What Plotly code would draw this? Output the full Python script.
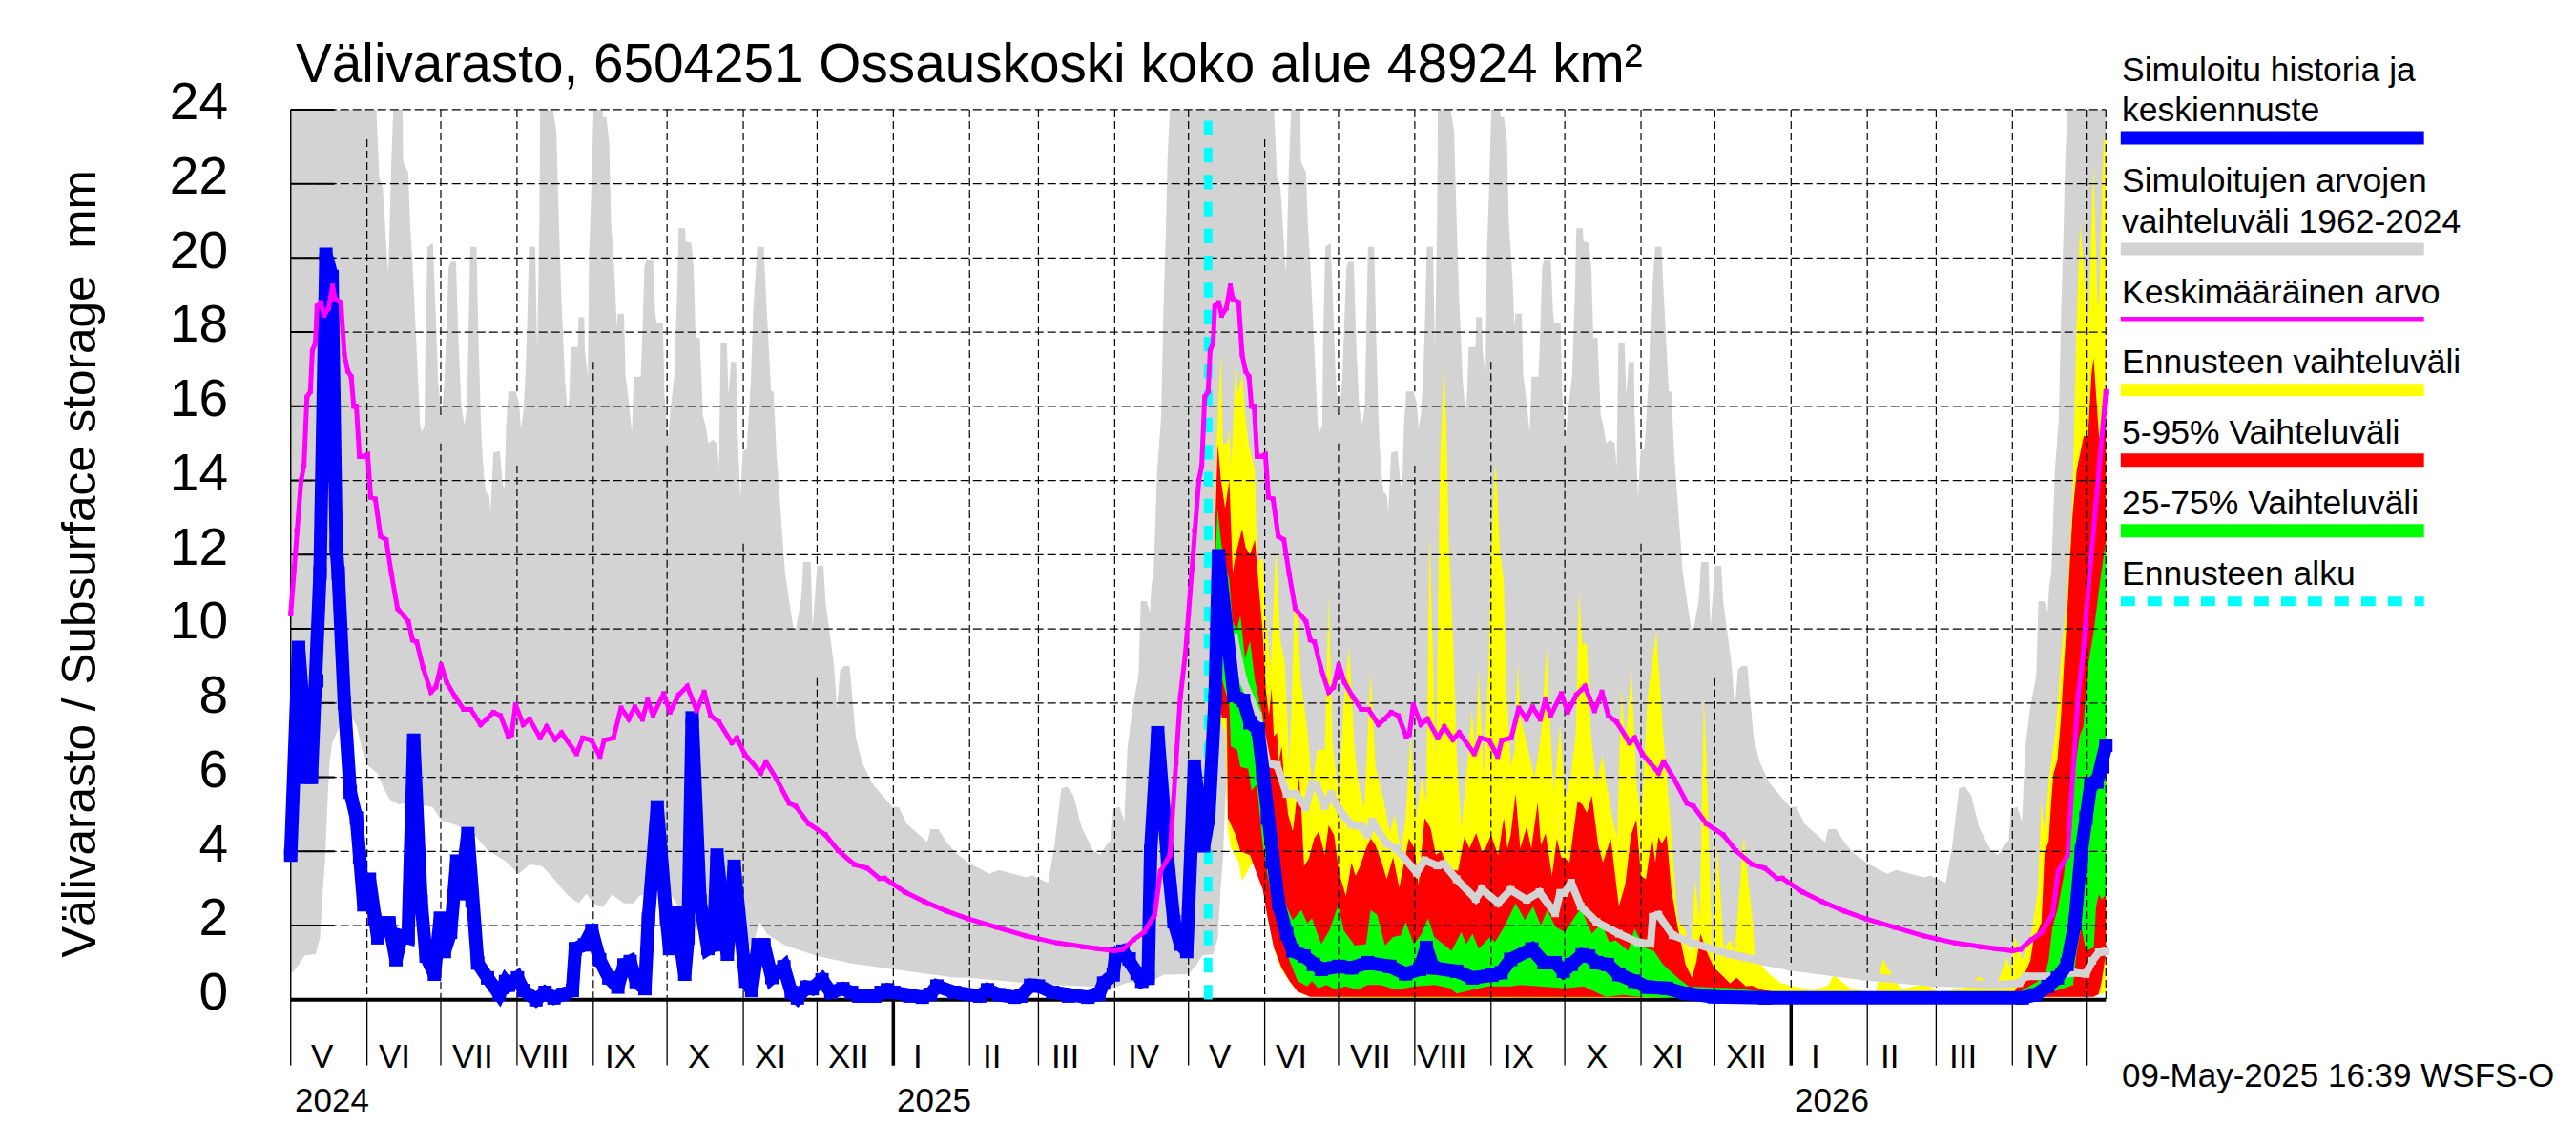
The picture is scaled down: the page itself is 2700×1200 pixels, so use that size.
"""
Välivarasto 6504251 Ossauskoski: simulated history, climatology and ensemble forecast.
Series are (day, value) pairs, day counted from 1 May 2024.
The climatology repeats every 365 days, so it is kept for one year only.
"""
import pandas as pd
import plotly.graph_objects as go

START = pd.Timestamp("2024-05-01")
FORECAST_DAY = 373
END_DAY = 738

# Climatology: upper and lower edge of the grey band, and the mean
clim_upper = [(0,24),(34.8,24),(36,22.15),(37.4,21.9),(39.1,20.1),(39.6,19.6),(40,20.35),(40.9,22.6),(41.7,24),(45.5,24),(45.7,22.6),(47.8,22.3),(48.6,20.8),(49.5,19.9),(51.2,17.5),(52.6,15.5),(53.3,15.3),(54.4,15.5),(54.7,17.5),(55.6,20.3),(57.8,20.4),(59,18.4),(59.9,16.7),(61.3,15.7),(62.5,16.7),(64.2,19.75),(65.1,19.9),(67.2,19.9),(68.2,17.7),(69.4,16),(70.6,15.5),(71.7,16),(72.4,18.4),(73,20.3),(75.5,20.3),(76.3,17.9),(77.2,15.8),(77.7,14.95),(78.6,14.1),(79.3,13.7),(80.7,13.6),(81.2,13.15),(82.4,14.75),(85,14.8),(86.2,13.9),(86.9,13.8),(87.6,15.5),(88.5,16.4),(91.4,16.4),(92.8,16.1),(93.6,15.4),(94.5,15.8),(95.4,16.8),(96.2,18.4),(96.9,20.3),(99.4,20.3),(100.2,17.5),(101.1,21),(101.4,24),(106.6,24),(108,23.4),(109.2,20.6),(110.1,18.8),(111.5,16.7),(112.5,15.9),(113.2,16.2),(113.9,17.6),(116.7,17.6),(117,18.4),(119.3,18.4),(119.6,17.5),(120.8,16.8),(121.3,20.1),(122.2,21.8),(123.1,24),(126.7,24),(127,23.8),(128.3,23.8),(129.5,23.1),(130.2,21),(131.7,19.5),(132.6,18.1),(132.9,18.5),(135.5,18.5),(136.1,16.85),(137.4,16.15),(138.7,15.3),(139.5,16.8),(142.3,16.8),(143,18),(143.8,19.75),(144.7,19.95),(147.3,19.95),(148.2,18.55),(148.7,18.25),(151.3,18.25),(152,16.25),(153.4,15.2),(154.2,15.8),(156,16.85),(157.2,19.25),(157.7,20.8),(160.3,20.8),(160.6,20.45),(162.9,20.4),(163.8,19.7),(164.6,17.85),(166.3,17.85),(167.6,15.75),(168.6,15.5),(169.8,15),(171.5,15.1),(173.3,15),(174.1,14.35),(174.8,17.7),(177.3,17.7),(178,16.3),(179,17.2),(181.1,17.2),(181.4,15.8),(182.8,13.5),(183.8,14.8),(185.4,14.85),(187.1,16.75),(188,18.55),(189.7,20.3),(192.3,20.3),(193.2,19.05),(195.3,16.4),(196.3,16.4),(197.5,14.7),(199.2,13.15),(201,11.5),(202.7,10.75),(204.4,10),(205.3,9.95),(207.5,10.8),(208.4,11.8),(211.4,11.8),(212.2,10),(214,11.7),(216.6,11.7),(217.4,10.75),(220.9,9),(222.1,7.85),(223.4,8.9),(224.9,9),(227.2,9),(229.8,7.05),(232.3,6.4),(236.2,5.85),(242,5.4),(244.6,5.2),(247.2,5.2),(250.4,4.75),(258.8,4.25),(260.1,4.6),(263.3,4.6),(266.6,4.25),(270.5,3.95),(275.6,3.7),(284,3.4),(287.9,3.5),(298.9,3.3),(301.5,3.35),(307.9,3.15),(310.5,4.15),(313.3,5.7),(315.7,5.75),(318.3,5.5),(321.5,4.65),(326,4.05),(329.2,3.9),(331.8,4.2),(333.5,4.3),(334.4,5.15),(337,5.2),(338.9,4.8),(340.2,6.8),(342.2,7.85),(344.7,8.75),(345.6,10.75),(348,10.75),(349.3,10.45),(350,11.2),(350.8,11.5),(351.3,12.4),(352.2,14.2),(353.9,15.7),(354.8,18.55),(355.7,20.5),(356.5,22.7),(357.4,24),(365,24)]
clim_lower = [(0,0.69),(3.2,0.94),(5.7,1.2),(10.1,1.23),(11.9,1.67),(12.3,2.1),(13.1,3),(14,3.8),(14.9,5.26),(15.8,6.4),(16.8,6.9),(19.3,7.3),(21.8,7.6),(25,7.6),(26.7,7.4),(29.2,6.7),(31.7,6.3),(35.4,6.1),(37.8,5.7),(40.3,5.4),(44,5.27),(46.5,5.3),(52.7,5.25),(57.6,5.2),(61.3,4.83),(67.5,4.7),(74.9,4.43),(79.9,4.04),(87.3,3.74),(92.7,3.4),(97.2,3.65),(102.1,3.6),(105.8,3.35),(112,2.86),(117,2.6),(120.2,2.86),(123.1,2.6),(126.9,2.5),(130.6,2.84),(135.5,2.6),(139.2,2.6),(141.7,2.8),(151.6,3),(154,2.9),(159,2.36),(161.5,2.07),(168.9,1.67),(178.8,1.48),(185,1.28),(188.7,1.67),(190.7,2.1),(193.6,1.77),(201,1.47),(214.1,1.18),(228.2,0.98),(245.3,0.82),(269.8,0.6),(276,0.59),(304,0.42),(334.8,0.33),(340,0.46),(350,0.5),(355,0.68),(365,0.69)]
clim_mean = [(0,10.4),(1.4,11.6),(2.4,12.65),(4.2,14),(5.4,14.4),(6.6,16.25),(8,16.4),(8.8,17.5),(10,17.7),(10.7,18.7),(12.3,18.8),(13.5,18.45),(15.4,18.65),(17,19.25),(18,18.9),(20.4,18.8),(21.8,17.4),(23.2,16.95),(24.6,16.8),(25.6,16),(26.7,16),(27.9,14.65),(29.6,14.65),(31.3,14.7),(32.5,13.55),(34.4,13.5),(36.5,12.5),(38.8,12.4),(40.9,11.5),(43.4,10.55),(47.8,10.2),(49.5,9.7),(51.2,9.65),(53.8,8.95),(57,8.3),(59,8.43),(61.1,9.03),(63.4,8.56),(66.8,8.17),(70.3,7.83),(73.2,7.83),(77.2,7.42),(79.8,7.57),(82.4,7.75),(85.3,7.66),(88.5,7.1),(89.8,7.15),(91.4,7.96),(94.5,7.42),(97.1,7.57),(101.4,7.06),(104,7.36),(107.5,7.02),(110.1,7.2),(116.2,6.63),(118.7,7.06),(122.2,7),(125.7,6.56),(127.4,7),(131.2,7.06),(134.3,7.87),(137.4,7.57),(139.9,7.9),(143,7.56),(145.1,8.09),(147.3,7.66),(151.6,8.26),(154.2,7.75),(157.7,8.22),(161.2,8.45),(165.1,7.79),(168.1,8.3),(170.7,7.66),(174.1,7.49),(179.3,6.93),(181.4,7.06),(184.5,6.63),(191.1,6.12),(193.2,6.42),(197.5,5.95),(202.7,5.3),(205.3,5.22),(210.5,4.75),(217.4,4.45),(222.6,4.02),(229.1,3.65),(234.3,3.55),(239.4,3.27),(241.4,3.28),(249.8,2.9),(257.5,2.65),(266.6,2.39),(275.6,2.18),(287.2,1.95),(298.9,1.72),(311.8,1.53),(322.1,1.42),(328,1.38),(334.9,1.32),(338.3,1.36),(342.7,1.62),(347,1.83),(351.3,2.3),(353.6,3.46),(357.4,3.89),(358.2,4.66),(360,6.38),(361.7,8.17),(363.8,9.37),(365,10.4)]

# Simulated history and median forecast
blue_line = [(0,3.9),(1.5,6),(3.2,9.5),(5.5,7.5),(7,6),(8.4,6),(10.6,8.6),(11.9,11.5),(14.3,20.1),(16.8,19.5),(18.5,12.2),(19.3,11.5),(21.8,8),(24.2,5.6),(26.7,4.9),(28,3.84),(29.7,2.56),(32,3.25),(34,2.17),(35.4,1.67),(37,2.07),(40,2.07),(42.8,1.08),(45,1.72),(47.7,1.67),(50,7),(53,2.66),(55,1.18),(58.4,0.69),(60.8,2.2),(62.5,1.3),(65,1.82),(67.5,3.74),(69,2.86),(72,4.48),(73.7,2.66),(76,0.99),(80,0.59),(84.8,0.15),(87.3,0.49),(88.5,0.39),(92.2,0.59),(94.7,0.25),(99.7,0),(103.4,0.2),(107,0.05),(110.8,0.15),(114.5,0.25),(115.7,1.38),(119.4,1.48),(122.4,1.87),(125.6,1.08),(129.3,0.59),(133,0.34),(135.5,0.94),(138,1.03),(140.4,0.49),(144,0.3),(145.4,2.17),(149,5.2),(152.8,2.17),(154,1.38),(156.5,2.36),(160.2,0.69),(161.5,1.67),(163.2,7.6),(166.4,2.66),(169.6,1.38),(171.9,1.48),(173.3,3.9),(177.5,1.23),(180.3,3.6),(185,0.5),(187.4,0.25),(190,1.48),(192.4,1.48),(195.6,0.6),(200.5,0.89),(203.5,0.2),(206,0.05),(209.7,0.34),(212,0.3),(216,0.54),(219.6,0.2),(224.5,0.3),(228,0.2),(231,0.1),(237.5,0.1),(240,0.2),(242.6,0.27),(245.2,0.2),(251.7,0.1),(256.8,0.07),(260.1,0.15),(262.7,0.37),(269.8,0.2),(280.1,0.1),(283.3,0.27),(287.9,0.14),(294.3,0.07),(296.9,0.1),(300.8,0.39),(304,0.37),(309.8,0.2),(316.3,0.1),(324.1,0.07),(328.6,0.15),(330.5,0.45),(334.4,0.67),(335.4,1.23),(338.3,1.31),(340.9,1.1),(344.1,0.71),(346,0.5),(348.6,0.58),(349.6,4),(352.5,7.2),(356.5,3.8),(359.1,2.1),(361.7,1.5),(364.3,1.3),(367.4,6.3),(371.2,4.15),(373.2,4.9),(375.8,8.1),(377.2,11.97),(380.3,9.95),(383.5,8.2),(387.4,8.07),(390,7.47),(393.2,7.3),(395.2,6.1),(397.1,4.9),(399,3.7),(401.6,2.6),(404.9,1.78),(407.4,1.32),(412,1.18),(415.8,0.95),(419,0.82),(426.2,0.9),(431.3,0.86),(437.8,1),(446.9,0.9),(453.3,0.7),(459,0.82),(461.7,1.41),(464.5,0.86),(474,0.77),(480.5,0.59),(488.3,0.66),(492.1,0.73),(496,1.09),(504.6,1.37),(509.6,1),(514.1,1),(517.4,0.77),(520.6,0.95),(525.1,1.21),(527.7,1.18),(530.9,1),(535.4,0.95),(540,0.68),(546.4,0.5),(551.6,0.34),(559.4,0.31),(567.1,0.17),(578.7,0.08),(599.4,0.05),(704,0.05),(709.2,0.13),(714.4,0.36),(718.3,0.59),(722.2,0.95),(725.4,2.06),(728,3.99),(729.9,4.9),(731.9,5.82),(734.4,5.87),(736.4,6.28),(738,6.86)]

# Light grey reference line inside the forecast period
grey_line = [(383.5,9.77),(387.4,8.58),(393.2,7.66),(397.1,6.37),(401,6.33),(404.9,5.55),(408.7,5.55),(412.6,5.18),(415.2,5.82),(417.1,5.78),(420.4,5.22),(422.9,5.55),(427.5,5),(431.3,4.72),(435.2,4.67),(437.8,4.44),(439.7,4.81),(445.6,4.21),(449.4,4.08),(457.8,3.43),(461,3.76),(466.2,3.62),(468.8,3.66),(474,3.25),(481.8,2.72),(484.3,2.98),(490.9,2.61),(496,2.96),(502.5,2.7),(507.7,2.9),(514.1,2.33),(516.1,2.88),(518,2.88),(520.6,3.16),(524.5,2.52),(530.9,2.1),(540,1.78),(547.7,1.55),(552.9,1.51),(553.8,2.24),(556.1,2.29),(561.9,1.74),(571,1.51),(585.2,1.23),(599.4,1.03),(610,0.89),(639,0.63),(668,0.46),(693.7,0.4),(702.8,0.45),(705.4,0.63),(717,0.63),(724.7,0.73),(729.9,0.7),(732.5,1.05),(735.1,1.28),(738,1.3)]

# Forecast ranges
yellow_upper = [(373,4.5),(374.5,8),(375.6,11.5),(376.4,15),(378.2,17.45),(379,15),(380.8,15),(381.6,15.4),(382.5,14.4),(384.2,17.3),(385.1,16.3),(386.8,16.9),(387.7,16),(389.4,15),(392,14.3),(392.9,11.8),(395.2,11.9),(396.4,10.4),(398.4,8.9),(400.6,12.2),(402.3,9.7),(404.2,9.1),(406.1,6.3),(408.1,10.6),(409.4,10.4),(410.7,8.6),(413.3,7.3),(415.2,5.8),(417.4,6.74),(420.4,6.74),(422,10.9),(423.6,6.9),(426.2,5.4),(428.1,8),(430.3,9.5),(432.6,6.7),(434.6,5.64),(436.5,5.2),(439.1,8.85),(441,6.3),(444.3,5.4),(446.9,4.5),(448.8,5),(451.4,4),(453.3,4.9),(455.3,7.1),(457.5,4.9),(459.8,6),(461.7,5.3),(463,12.6),(464.3,9.5),(465.6,6.3),(467.3,14.5),(469,17.3),(470.2,14.5),(470.8,12.4),(472.7,9.5),(474,6.7),(475.9,4.6),(478.5,6.4),(480.2,7.8),(481.8,6.7),(483,8.9),(485,5.9),(487,9),(488.3,12.25),(489.3,14.1),(489.8,14.4),(490.2,14.1),(491.5,12.15),(493.2,11.3),(494.1,8.6),(496,6.3),(497.6,6.7),(498.9,9.1),(499.9,7.65),(502.5,6.9),(505.7,6),(508.3,7.1),(510.6,9.5),(512.2,7.2),(513.5,5.6),(516.1,7.4),(518,5.4),(520.6,6.1),(522.5,7.2),(523.8,11),(525.1,9.6),(527,9.6),(528.6,7.2),(530.9,5.8),(533.3,6.6),(534.8,5.9),(537.4,4.9),(539.3,4.35),(541,8.4),(542.6,6.8),(545.1,9),(547.1,5.8),(549.3,4.9),(551.6,8.1),(555.2,9.95),(558.1,7.1),(560.7,5),(563.9,2.15),(567.1,1.87),(569,1.23),(571,3.2),(572.9,2.15),(574.5,8.1),(575.5,6.7),(578.1,1.05),(580,4.17),(582.6,1.4),(585.2,1.6),(587.1,1.3),(590.7,4.4),(594.3,2.15),(595.4,1.15),(600.6,0.72),(605.7,0.46),(609.6,0.38),(618.7,0.25),(625.1,0.38),(627.4,0.68),(634.1,0.29),(644.5,0.2),(647.3,1.1),(650.9,0.68),(654.8,0.29),(664.5,0.42),(670.3,0.2),(680.7,0.33),(686.5,0.63),(691,0.38),(694.2,0.5),(697.7,1.15),(699.4,0.8),(701.1,1.7),(703.9,1.06),(707.8,1.83),(710.4,2.95),(711.7,5.3),(713,4.58),(714.9,5.95),(717.5,7.2),(720.1,9.46),(722.3,11),(724.5,13.6),(726,18),(727.5,20.9),(729,19.8),(730.7,17.9),(733,22.5),(734.6,18.9),(735.2,18.7),(737.1,23.2),(738,23.2)]
yellow_lower = [(373,4.2),(375,8.5),(378.6,7.4),(380,7.2),(381,4.6),(382.2,4.1),(385.5,3.7),(386.8,3.2),(390,3.6),(391.9,3.7),(393.9,3.3),(395.8,2.9),(397.1,2.3),(399.7,1.37),(402.9,0.8),(406.1,0.5),(409.4,0.22),(414.5,0.08),(450,0.03),(732,0.08),(738,0.2)]
red_upper = [(373,4.5),(374.5,8),(375.5,12),(376.9,15),(378.2,14),(379.9,13.25),(381.6,14),(383,11.5),(384.2,12),(386.8,12.7),(388.2,12.2),(390,12),(392,12.4),(393.9,10.9),(395.2,9.9),(396.4,8.4),(397.7,7.66),(398.8,8.4),(399.7,7.1),(401,7.2),(401.6,6.37),(402.9,6.83),(403.6,6.2),(404.9,5.36),(405.5,5),(407.4,4.54),(408.1,4.9),(410,6),(410.9,5.1),(412,3.6),(413.9,3.8),(416.1,4.35),(418,4.54),(420.4,3.9),(422,4.7),(424.2,4.44),(426.2,3.43),(429,2.8),(431.3,3.7),(432.9,3.34),(434.6,3.57),(437.2,4.08),(439.1,4.35),(441,4.17),(443.6,3.7),(445.6,3.25),(448.2,3.85),(450.7,3.02),(452.7,3.7),(454.6,4.35),(456.9,4.08),(458.5,3.07),(461,4.9),(463.4,4.63),(465.6,3.9),(467.8,4.03),(470.1,3.53),(474.6,3.48),(477.2,4.4),(479.2,4.08),(482,4.5),(484.3,3.99),(485.7,4.08),(488,4.44),(490.9,3.9),(493.2,4.9),(494.7,4.08),(496,4.44),(498,5.55),(499.9,4.08),(502.5,4.67),(504.4,4.08),(507,5.32),(508.3,4.17),(510.2,4.49),(512.8,3.34),(514.8,4.35),(516.5,3.85),(518.3,3.8),(519.9,3.7),(523.2,5.36),(525.1,5.27),(527,5.04),(529,5.5),(531.6,4.17),(533.5,3.7),(536.7,4.35),(540,2.52),(542.6,3.11),(544.9,4.44),(547.1,4.86),(549,3.34),(551,3.25),(553.5,4.4),(554.8,3.7),(556.1,4.4),(557.4,4.2),(559.4,4.44),(561.3,2.98),(563.9,1.97),(567.1,0.95),(569.7,0.59),(571.6,1.05),(573.2,1.78),(575.5,1.32),(578.7,0.86),(582.6,0.62),(585.2,0.44),(587.8,0.59),(591.7,0.36),(594.1,0.38),(598,0.27),(610,0.14),(700,0.12),(704,0.59),(705.4,0.77),(707.3,1.05),(708.6,1.6),(711.8,2.06),(712.5,3.07),(713.1,3.99),(714.7,4.26),(715.7,5.27),(716.7,6.1),(718.3,6.46),(719.6,7.47),(720.9,8.94),(722.2,10.3),(723.5,12),(724.5,13.1),(726.2,14.3),(729,15.2),(730.7,15.2),(732.2,16.9),(733,17.3),(734.1,16.25),(735.2,15.2),(736.3,14.9),(738,16.1)]
red_lower = [(373,4.3),(375,8.8),(378.6,7.6),(380.6,7.6),(381,4.9),(384.2,4.44),(386.1,4),(390,3.9),(392.6,3.43),(395.2,2.98),(397.1,2.24),(399.7,1.41),(402.9,0.86),(406.1,0.5),(409.4,0.22),(414.5,0.08),(620,0.07),(733,0.08),(735,0.15),(736,0.4),(737,0.8),(738,1.3)]
green_upper = [(375,10),(376.8,13.26),(378.4,12.25),(381.6,11.3),(382.9,10.2),(384.6,9.95),(386.1,10.37),(388,9.2),(390,9.68),(391.9,8.67),(393.9,8),(395.2,7.66),(396.4,7),(399.7,4),(403.6,2.7),(407.4,2.15),(410.9,2.42),(413.3,2.06),(415.2,2.2),(419,1.5),(422.3,1.87),(425.9,2.56),(428.1,1.87),(432.6,1.46),(437.2,1.5),(439.1,2.42),(441.7,2.29),(444.9,1.46),(448.2,1.69),(451.4,1.74),(453.3,2.1),(456.6,1.5),(459.8,1.78),(462.4,2.2),(464.9,1.69),(472,1.32),(475.9,1.83),(477.9,1.5),(480.5,1.78),(483,1.37),(487.6,1.69),(489.6,1.55),(493.4,1.97),(498,2.6),(501.8,2.15),(505.1,2.52),(508.3,2),(510.9,2.42),(514.1,1.97),(518,1.83),(524.5,2.47),(529,1.78),(532.9,2.06),(536.1,1.55),(538.7,1.6),(543.8,1.32),(546.4,1.92),(550.3,1.41),(554.2,1.32),(558,0.95),(563.9,0.59),(568.4,0.36),(586.5,0.31),(599.4,0.22),(620,0.1),(700,0.1),(705.4,0.31),(710.5,0.5),(713.1,0.68),(714.7,1.05),(716.3,1.97),(718.3,2.42),(720.9,3.34),(722.8,4.44),(725.4,6.2),(727.3,7.1),(728.9,7.38),(730.6,8.94),(733.1,9.95),(735.7,11.3),(738,12.4)]
green_lower = [(375,9.5),(381.6,7.93),(382.2,6.83),(384.8,6.74),(386.1,6.28),(389.3,6.23),(390.6,5.64),(392.8,5.8),(395.2,4.17),(398.4,2.88),(402.9,1.78),(406.1,1.05),(409.4,0.5),(413.3,0.36),(415.2,0.5),(417.8,0.31),(421,0.4),(424.9,0.27),(428.8,0.36),(433.9,0.27),(437.8,0.4),(443,0.4),(449.4,0.27),(457.2,0.36),(465,0.4),(471.4,0.31),(474,0.17),(480.5,0.27),(486.9,0.36),(496,0.36),(499.9,0.4),(518,0.31),(525.7,0.36),(534.8,0.08),(541.3,0.13),(549,0.08),(570,0.03),(713,0.15),(720.9,0.31),(724.7,0.4),(726,1.23),(728,1.96),(729.9,1.32),(733.1,1.41),(734,2.5),(735.1,2.84),(736.4,2.7),(738,2.84)]

# Axis labels
y_ticks = [0, 2, 4, 6, 8, 10, 12, 14, 16, 18, 20, 22, 24]
month_starts = pd.date_range("2024-05-01", "2026-05-01", freq="MS")
year_starts = ["2025-01-01", "2026-01-01"]
year_labels = ["2024", "2025", "2026"]
year_label_dates = ["2024-05-01", "2025-01-01", "2026-01-01"]
month_labels = ["V", "VI", "VII", "VIII", "IX", "X", "XI", "XII", "I", "II", "III", "IV"] * 2
month_label_dates = ["2024-05-14", "2024-06-12", "2024-07-14", "2024-08-12", "2024-09-12", "2024-10-14",
                     "2024-11-12", "2024-12-14", "2025-01-11", "2025-02-10", "2025-03-12", "2025-04-13",
                     "2025-05-14", "2025-06-12", "2025-07-14", "2025-08-12", "2025-09-12", "2025-10-14",
                     "2025-11-12", "2025-12-14", "2026-01-11", "2026-02-10", "2026-03-12", "2026-04-13"]
# where the upper grey layer hides a month line, by month number: (upper, lower)
grid_hidden = {6: (24, 23.2), 7: (15.7, 15), 8: (16.4, 14.4), 9: (24, 17.2), 10: (15.2, 14.95), 11: (14.8, 12.3), 12: (11.7, 8.67)}

legend_rows = [
    ("Simuloitu historia ja", 72), ("keskiennuste", 115), ("Simuloitujen arvojen", 189),
    ("vaihteluväli 1962-2024", 232), ("Keskimääräinen arvo", 306), ("Ennusteen vaihteluväli", 379),
    ("5-95% Vaihteluväli", 453), ("25-75% Vaihteluväli", 527), ("Ennusteen alku", 601),
]
legend_bars = [("#0000ff", 144, 14), ("#d3d3d3", 260.5, 13), ("#ff00ff", 334, 4.5),
               ("#ffff00", 408.5, 13), ("#ff0000", 482, 14), ("#00ff00", 556, 14), ("#00ffff", 630, 10)]

# Page layout in pixels
W, H = 2700, 1200
L_PX, R_PX, T_PX, B_PX = 296.5, 2215.2, 110.5, 1117.2


def to_date(days):
    return START + pd.to_timedelta(days, unit="D")


def xy(pairs):
    return [to_date(d) for d, _ in pairs], [v for _, v in pairs]


def band(upper, lower, color):
    ux, uy = xy(upper)
    lx, ly = xy(lower)
    return go.Scatter(x=ux + lx[::-1], y=uy + ly[::-1], fill="toself", fillcolor=color,
                      mode="none", hoverinfo="skip")


def paper_x(px):
    return (px - L_PX) / (R_PX - L_PX)


def paper_y(px):
    return (B_PX - px) / (B_PX - T_PX)


def line(x, y, color="black", width=2.0, dash="solid"):
    return go.Scatter(x=x, y=y, mode="lines", line=dict(color=color, width=width, dash=dash),
                      hoverinfo="skip")


def pen_line(pairs, color, width):
    # the original plotter draws with a square pen, so square corners on every point
    x, y = xy(pairs)
    return go.Scatter(x=x, y=y, mode="lines+markers", line=dict(color=color, width=width),
                      marker=dict(symbol="square", size=width, color=color, line=dict(width=0)),
                      hoverinfo="skip")


# The climatology repeats after a year, the chart ends 8 days into the third May
upper_all = clim_upper + [(d + 365, v) for d, v in clim_upper[1:]]
upper_all = [p for p in upper_all if p[0] <= END_DAY] + [(END_DAY, 24)]
lower_all = clim_lower + [(d + 365, v) for d, v in clim_lower[1:]]
lower_all = [p for p in lower_all if p[0] <= END_DAY] + [(END_DAY, 1.23)]
mean_all = clim_mean + [(d + 365, v) for d, v in clim_mean[1:]]
mean_all = [p for p in mean_all if p[0] <= END_DAY] + [(END_DAY, 16.4)]

fig = go.Figure()
fig.add_trace(band(upper_all, lower_all, "#d3d3d3"))
fig.add_trace(band(yellow_upper, yellow_lower, "#ffff00"))
fig.add_trace(band(red_upper, red_lower, "#ff0000"))
fig.add_trace(band(green_upper, green_lower, "#00ff00"))

# Grid sits on top of the filled ranges but under the lines
end_date = to_date(END_DAY)
h_x, h_y = [], []
for v in y_ticks[1:]:
    h_x += [START, end_date, None]
    h_y += [v, v, None]
fig.add_trace(line(h_x, h_y, width=1.3, dash="9px,4px"))

v_x, v_y = [], []
for m in list(month_starts[1:]) + [end_date]:
    hi, lo = grid_hidden.get(m.month, (24, 24)) if m != end_date else (24, 24)
    if hi < 24 or lo < 24:
        v_x += [m, m, None]
        v_y += [24, hi, None]
    v_x += [m, m, None]
    v_y += [lo, 0, None]
fig.add_trace(line(v_x, v_y, width=1.2, dash="8px,4px"))

# Axes: left edge, inner y ticks, zero line, month and year ticks under the plot
tick_end = to_date(17.8)
yt_x, yt_y = [], []
for v in y_ticks[1:]:
    yt_x += [START, tick_end, None]
    yt_y += [v, v, None]
fig.add_trace(line(yt_x, yt_y, width=2))
fig.add_trace(line([START, START], [0, 24], width=1.4))
fig.add_trace(line([START, end_date], [0, 0], width=4))

mt_x, mt_y = [], []
for m in month_starts:
    mt_x += [m, m, None]
    mt_y += [0, -1.77, None]
fig.add_trace(line(mt_x, mt_y, width=1.3))
yr_x, yr_y = [], []
for y0 in year_starts:
    yr_x += [pd.Timestamp(y0), pd.Timestamp(y0), None]
    yr_y += [0, -1.77, None]
fig.add_trace(line(yr_x, yr_y, width=3.5))

fc = to_date(FORECAST_DAY)
fig.add_trace(line([fc, fc], [23.7, 0], color="#00ffff", width=9, dash="15.3px,13px"))

fig.add_trace(pen_line(grey_line, "#d3d3d3", 8))
fig.add_trace(pen_line(blue_line, "#0000ff", 14))
fig.add_trace(pen_line(mean_all, "#ff00ff", 5))

# Texts
FONT = "Liberation Sans"
notes = [
    dict(text="Välivarasto, 6504251 Ossauskoski koko alue 48924 km²", x=paper_x(309), y=paper_y(66),
         xref="paper", yref="paper", xanchor="left", yanchor="middle", font=dict(size=56.7)),
    dict(text="Välivarasto / Subsurface storage\u00a0\u00a0mm", x=paper_x(82), y=paper_y(591),
         xref="paper", yref="paper", xanchor="center", yanchor="middle", textangle=-90, font=dict(size=49.5)),
    dict(text="09-May-2025 16:39 WSFS-O", x=paper_x(2223), y=paper_y(1127),
         xref="paper", yref="paper", xanchor="left", yanchor="middle", font=dict(size=35)),
]
for label, date in zip(month_labels, month_label_dates):
    notes.append(dict(text=label, x=date, y=-1.5, xref="x", yref="y", xanchor="center", yanchor="middle",
                      font=dict(size=35)))
for label, date in zip(year_labels, year_label_dates):
    notes.append(dict(text=label, x=date, y=paper_y(1153), xref="x", yref="paper", xanchor="left", yanchor="middle",
                      xshift=3, font=dict(size=35)))
for label, y_px in legend_rows:
    notes.append(dict(text=label, x=paper_x(2223), y=paper_y(y_px), xref="paper", yref="paper",
                      xanchor="left", yanchor="middle", font=dict(size=35.5)))
for a in notes:
    a["showarrow"] = False
    a["borderpad"] = 0
    a["font"] = dict(family=FONT, color="black", size=a["font"]["size"])

bars = []
for color, y_px, thick in legend_bars:
    bars.append(dict(type="line", xref="paper", yref="paper", x0=paper_x(2223), x1=paper_x(2541),
                     y0=paper_y(y_px), y1=paper_y(y_px), layer="above",
                     line=dict(color=color, width=thick, dash="15px,13px" if color == "#00ffff" else "solid")))

fig.update_layout(
    width=W, height=H, autosize=False, showlegend=False,
    plot_bgcolor="white", paper_bgcolor="white",
    margin=dict(l=L_PX, r=W - R_PX, t=T_PX, b=H - B_PX, pad=0),
    annotations=notes, shapes=bars,
    font=dict(family=FONT, color="black"),
)
fig.update_xaxes(type="date", range=[to_date(-3), to_date(741)], showgrid=False, zeroline=False,
                 showline=False, ticks="", showticklabels=False)
fig.update_yaxes(range=[-1.78, 24.1], showgrid=False, zeroline=False, showline=False, ticks="",
                 tickmode="array", tickvals=y_ticks, ticktext=[str(v) for v in y_ticks],
                 tickfont=dict(family=FONT, size=55, color="black"), ticklabelstandoff=57, ticklabelshift=-9)

fig.write_html("out.html", config=dict(displayModeBar=False),
               post_script="document.body.style.margin='0';")
